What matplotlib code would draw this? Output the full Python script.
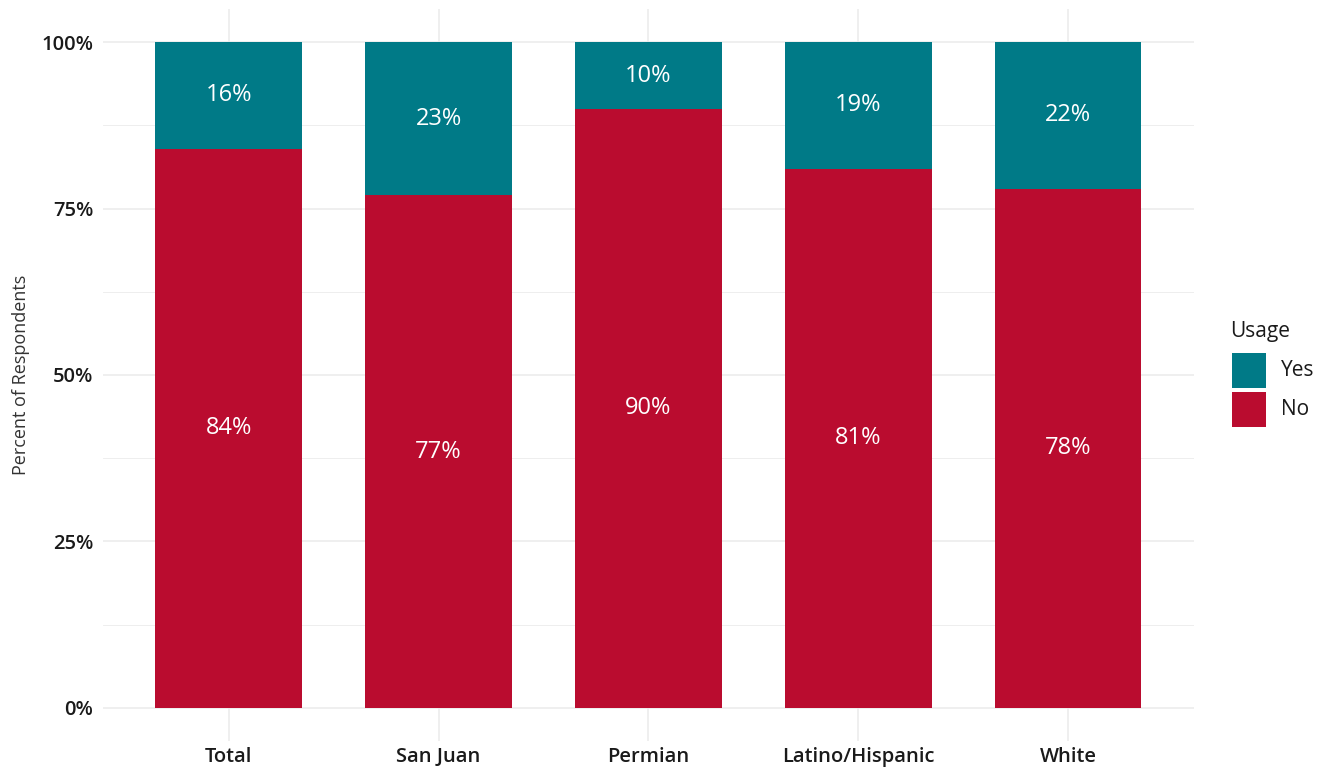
import matplotlib
matplotlib.use("Agg")
import matplotlib.pyplot as plt
from matplotlib.patches import Rectangle
import numpy as np

categories = ["Total", "San Juan", "Permian", "Latino/Hispanic", "White"]
no_vals = [84, 77, 90, 81, 78]
yes_vals = [16, 23, 10, 19, 22]
yticks = [0, 25, 50, 75, 100]
ytick_labels = ["0%", "25%", "50%", "75%", "100%"]
legend_title = "Usage"
legend_labels = ["Yes", "No"]

RED = "#BA0C2F"
TEAL = "#007A87"
GRID = "#EBEBEB"
TXT = "#1a1a1a"

plt.rcParams['font.family'] = ['Open Sans', 'DejaVu Sans']

W, H = 1330, 773
fig = plt.figure(figsize=(W / 100, H / 100), dpi=100)
ax = fig.add_axes([0.0774, 0.0414, 0.8203, 0.947])

x = np.arange(len(categories))
w = 0.7
ax.bar(x, no_vals, width=w, color=RED, zorder=3)
ax.bar(x, yes_vals, width=w, bottom=no_vals, color=TEAL, zorder=3)

for xi, n, yv in zip(x, no_vals, yes_vals):
    ax.text(xi, n / 2, f"{n}%", ha="center", va="center", color="white", fontsize=17, zorder=4)
    ax.text(xi, n + yv / 2, f"{yv}%", ha="center", va="center", color="white", fontsize=17, zorder=4)

ax.set_xlim(-0.6, len(categories) - 0.4)
ax.set_ylim(-5, 105)
ax.set_yticks(yticks)
ax.set_yticklabels(ytick_labels, fontsize=14.5, fontweight="semibold", color=TXT)
ax.set_yticks([12.5, 37.5, 62.5, 87.5], minor=True)
ax.set_xticks(x)
ax.set_xticklabels(categories, fontsize=14.5, fontweight="semibold", color=TXT)
ax.tick_params(axis="both", which="both", length=0)
ax.tick_params(axis="x", pad=4)
ax.tick_params(axis="y", pad=7)

ax.grid(True, which="major", color=GRID, linewidth=1.1, zorder=0)
ax.grid(True, which="minor", axis="y", color=GRID, linewidth=0.6, zorder=0)
ax.set_axisbelow(True)
for s in ax.spines.values():
    s.set_visible(False)

ax.set_ylabel("Percent of Respondents", fontsize=13, color="#333333", labelpad=8)

# manual legend (ggplot style), positions in figure pixels
def fx(px):
    return px / W

def fy(py):
    return 1 - py / H

fig.text(fx(1230), fy(332), legend_title, ha="left", va="center", fontsize=15, color=TXT)
key_tops = [353, 392]
for col, lab, top in zip([TEAL, RED], legend_labels, key_tops):
    fig.add_artist(Rectangle((fx(1232), fy(top + 35)), fx(34), 35 / H,
                             transform=fig.transFigure, facecolor=col, edgecolor="none"))
    fig.text(fx(1281), fy(top + 17.5), lab, ha="left", va="center", fontsize=15, color=TXT)

fig.savefig("out.png", dpi=100, facecolor="white")
